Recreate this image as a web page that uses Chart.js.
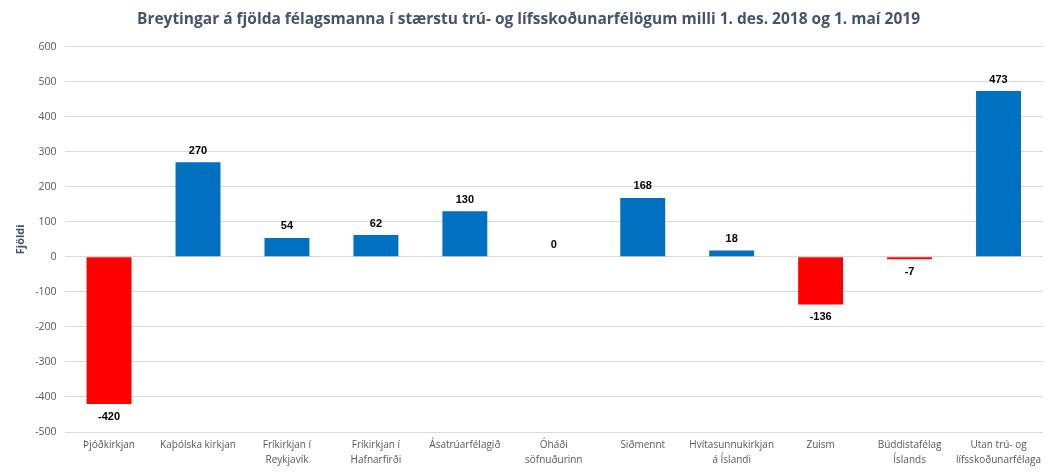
<!DOCTYPE html>
<html>
<head>
<meta charset="utf-8">
<script src="https://cdn.jsdelivr.net/npm/chart.js@4"></script>
<style>
  body { margin: 0; background: #fff; }
  #wrap { width: 1056px; height: 474px; }
</style>
</head>
<body>
<div id="wrap"><canvas id="breytingar"></canvas></div>
<script>
// gögn
const felog = [
    'Þjóðkirkjan',
    'Kaþólska kirkjan',
    ['Fríkirkjan í', 'Reykjavík'],
    ['Fríkirkjan í', 'Hafnarfirði'],
    'Ásatrúarfélagið',
    ['Óháði', 'söfnuðurinn'],
    'Siðmennt',
    ['Hvítasunnukirkjan', 'á Íslandi'],
    'Zuism',
    ['Búddistafélag', 'Íslands'],
    ['Utan trú- og', 'lífsskoðunarfélaga']
];
const breyting = [-420, 270, 54, 62, 130, 0, 168, 18, -136, -7, 473];
const yTicks = [-500, -400, -300, -200, -100, 0, 100, 200, 300, 400, 500, 600];

const litir = breyting.map(v => v < 0 ? '#FF0000' : '#0070C0');

// skrifar gildin við súlurnar
const gildiPlugin = {
    id: 'gildi',
    afterDatasetsDraw(chart) {
        const ctx = chart.ctx;
        const meta = chart.getDatasetMeta(0);
        ctx.save();
        ctx.font = 'bold 11px "Liberation Sans", Arial, sans-serif';
        ctx.fillStyle = '#000';
        ctx.textAlign = 'center';
        meta.data.forEach((bar, i) => {
            const v = breyting[i];
            if (v < 0) {
                ctx.textBaseline = 'top';
                ctx.fillText(v, bar.x, bar.y + 7);
            } else {
                ctx.textBaseline = 'bottom';
                ctx.fillText(v, bar.x, bar.y - 6);
            }
        });
        ctx.restore();
    }
};

new Chart(document.getElementById('breytingar').getContext('2d'), {
    type: 'bar',
    data: {
        labels: felog,
        datasets: [{
            data: breyting,
            backgroundColor: litir,
            categoryPercentage: 1,
            barPercentage: 0.505
        }]
    },
    options: {
        responsive: true,
        maintainAspectRatio: false,
        animation: false,
        layout: { padding: { left: 14, right: 13, top: 0, bottom: 0 } },
        plugins: {
            legend: { display: false },
            tooltip: { enabled: false },
            title: {
                display: true,
                text: 'Breytingar á fjölda félagsmanna í stærstu trú- og lífsskoðunarfélögum milli 1. des. 2018 og 1. maí 2019',
                color: '#44546A',
                font: { family: '"Open Sans", sans-serif', size: 15.5, weight: 'bold' },
                padding: { top: 10, bottom: 18 }
            }
        },
        scales: {
            x: {
                grid: { display: false, drawTicks: false },
                border: { display: false },
                ticks: {
                    color: '#595959',
                    font: { family: '"Open Sans", sans-serif', size: 10, lineHeight: 1.5 },
                    maxRotation: 0,
                    autoSkip: false,
                    padding: 6
                }
            },
            y: {
                min: -500,
                max: 600,
                afterBuildTicks(axis) { axis.ticks = yTicks.map(v => ({ value: v })); },
                grid: { color: '#D9D9D9', drawTicks: false },
                border: { display: false },
                ticks: {
                    color: '#595959',
                    font: { family: '"Open Sans", sans-serif', size: 10.5 },
                    padding: 8
                },
                title: {
                    display: true,
                    text: 'Fjöldi',
                    color: '#44546A',
                    font: { family: '"Open Sans", sans-serif', size: 11, weight: 'bold' },
                    padding: { top: 0, bottom: 0 }
                }
            }
        }
    },
    plugins: [gildiPlugin]
});
</script>
</body>
</html>
